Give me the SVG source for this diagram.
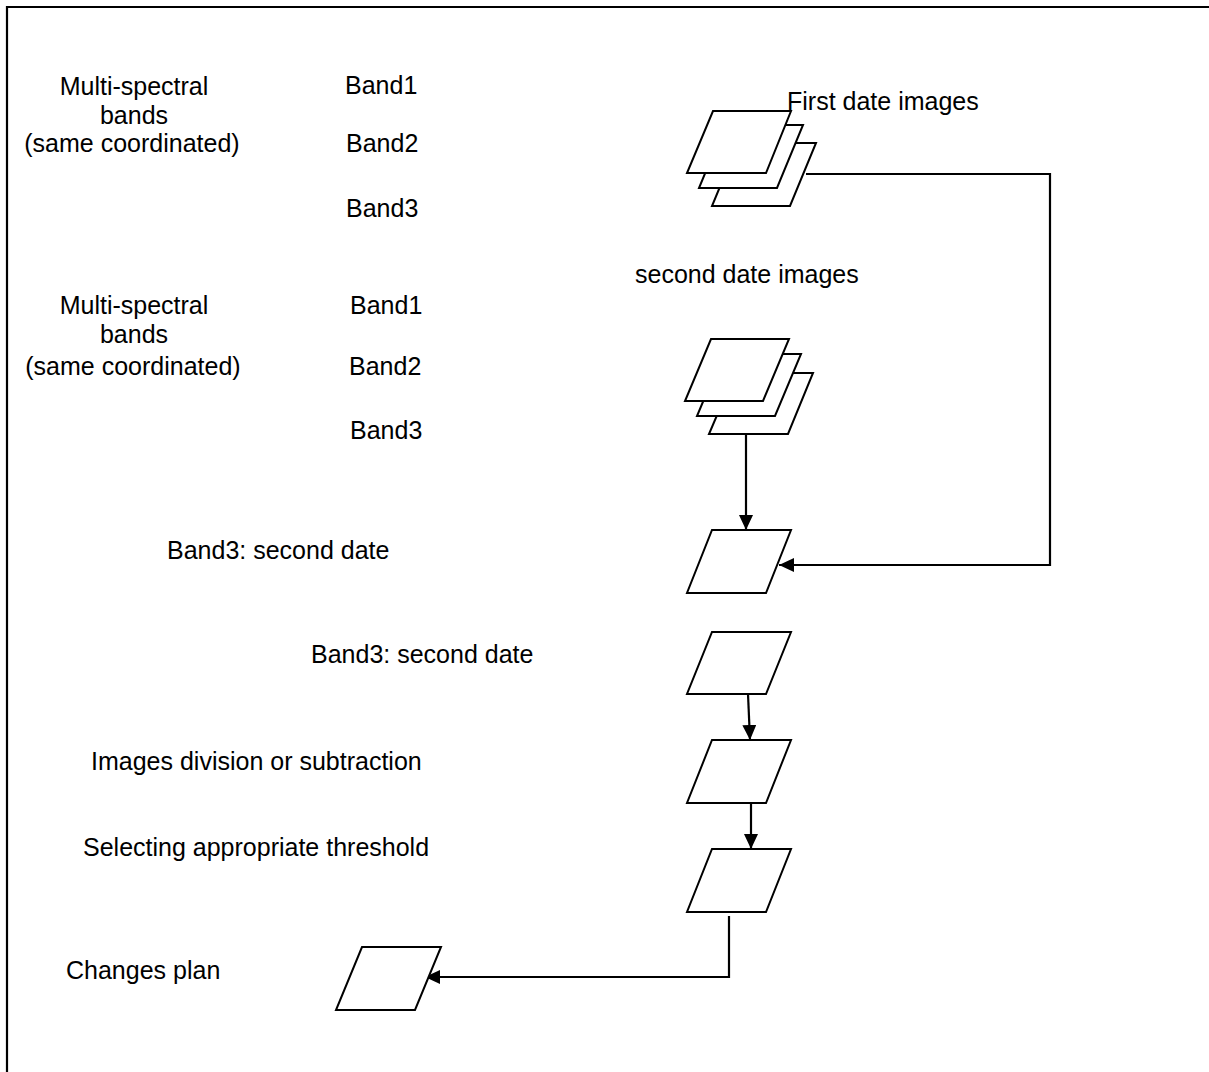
<svg xmlns="http://www.w3.org/2000/svg" width="1209" height="1072" viewBox="0 0 1209 1072">
<style>
text{font-family:"Liberation Sans",Arial,sans-serif;font-size:25px;fill:#000}
.c{text-anchor:middle}
.s{fill:#fff;stroke:#000;stroke-width:2;stroke-linejoin:miter}
.ln{fill:none;stroke:#000;stroke-width:2.2}
</style>
<defs>
<marker id="ah" viewBox="0 0 15 14" refX="15" refY="7" markerWidth="15" markerHeight="14" markerUnits="userSpaceOnUse" orient="auto">
<path d="M0,0 L15,7 L0,14 z" fill="#000"/>
</marker>
</defs>
<rect width="1209" height="1072" fill="#fff"/>
<path class="ln" d="M7,1072 V7 H1209" stroke-width="3"/>

<g id="labels1">
<text class="c" x="134" y="95">Multi-spectral</text>
<text class="c" x="134" y="124">bands</text>
<text class="c" x="132" y="152">(same coordinated)</text>
<text x="345" y="94">Band1</text>
<text x="346" y="152">Band2</text>
<text x="346" y="217">Band3</text>
</g>
<g id="labels2">
<text class="c" x="134" y="314">Multi-spectral</text>
<text class="c" x="134" y="343">bands</text>
<text class="c" x="133" y="375">(same coordinated)</text>
<text x="350" y="314">Band1</text>
<text x="349" y="375">Band2</text>
<text x="350" y="439">Band3</text>
</g>

<g id="connectors">
<path class="ln" d="M806,174 H1050 V565 H779" marker-end="url(#ah)"/>
<path class="ln" d="M746,434 V530" marker-end="url(#ah)"/>
<path class="ln" d="M748,694 L750,740" marker-end="url(#ah)"/>
<path class="ln" d="M751,803 V849" marker-end="url(#ah)"/>
<path class="ln" d="M729,916 V977 H425" marker-end="url(#ah)"/>
</g>

<g id="first-date">
<polygon class="s" points="738,143 816,143 790,206 712,206"/>
<polygon class="s" points="725,125 803,125 777,188 699,188"/>
<polygon class="s" points="713,111 791,111 766,173 687,173"/>
<text x="787" y="110">First date images</text>
</g>

<g id="second-date">
<text x="635" y="283">second date images</text>
<polygon class="s" points="735,373 813,373 788,434 709,434"/>
<polygon class="s" points="723,354 801,354 775,416 697,416"/>
<polygon class="s" points="711,339 789,339 763,401 685,401"/>
</g>

<g id="band3-a">
<text x="167" y="559">Band3: second date</text>
<polygon class="s" points="712,530 791,530 766,593 687,593"/>
</g>
<g id="band3-b">
<text x="311" y="663">Band3: second date</text>
<polygon class="s" points="712,632 791,632 766,694 687,694"/>
</g>
<g id="division">
<text x="91" y="770">Images division or subtraction</text>
<polygon class="s" points="712,740 791,740 766,803 687,803"/>
</g>
<g id="threshold">
<text x="83" y="856">Selecting appropriate threshold</text>
<polygon class="s" points="712,849 791,849 766,912 687,912"/>
</g>
<g id="changes">
<text x="66" y="979">Changes plan</text>
<polygon class="s" points="362,947 441,947 415,1010 336,1010"/>
</g>
</svg>
